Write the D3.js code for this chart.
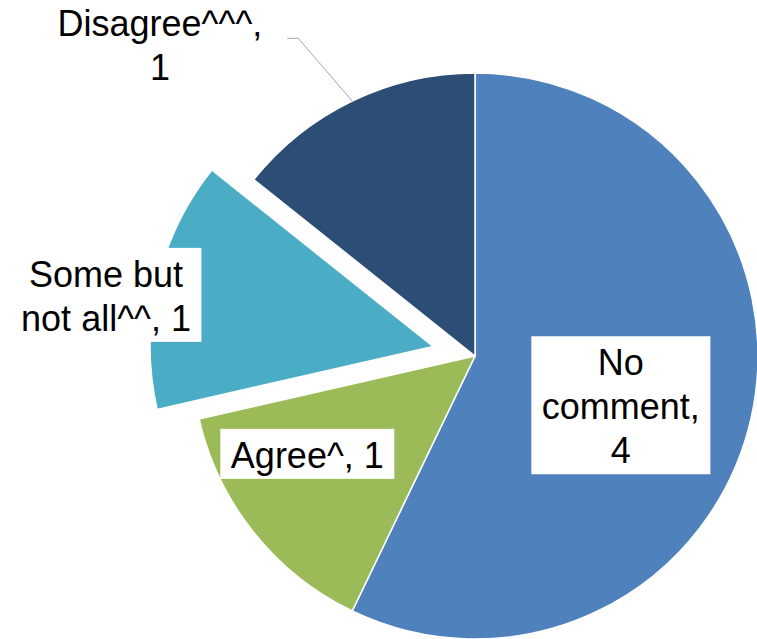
<!DOCTYPE html>
<html>
<head>
<meta charset="utf-8">
<script src="https://cdn.jsdelivr.net/npm/d3@7"></script>
<style>
  body { margin: 0; background: #fff; }
  text { font-family: "Liberation Sans", Arial, sans-serif; fill: #000; }
</style>
</head>
<body>
<script>
// Chart data
var categories = ["No comment", "Agree^", "Some but not all^^", "Disagree^^^"];
var values = [4, 1, 1, 1];
var colors = ["#4F81BD", "#9BBB59", "#4BACC6", "#2C4D75"];

// Page size
var svgWidth = 757;
var svgHeight = 639;

// Pie geometry
var cx = 475, cy = 356, radius = 283;
var explodeIndex = 2, explodeBy = 43;
var fontSize = 36, lineH = 44, wrapWidth = 180;

// Label placement: radius factor and angle nudge (deg) from slice middle
var labelLayout = [
  { k: 0.544, da: 5.8, box: true },
  { k: 0.686, da: 8.3, box: true },
  { k: 1.17, da: -3.9, box: true },
  { k: 1.566, da: -19.6, box: false, leader: true }
];

var svg = d3.select("body")
  .append("svg")
  .attr("width", svgWidth)
  .attr("height", svgHeight);

var data = categories.map((c, i) => ({ name: c, value: values[i], color: colors[i] }));

var pie = d3.pie()
  .value(d => d.value)
  .sort(null);

var arc = d3.arc()
  .innerRadius(0)
  .outerRadius(radius);

var arcs = pie(data);

function offsetOf(d, i) {
  if (i !== explodeIndex) return [0, 0];
  var m = (d.startAngle + d.endAngle) / 2;
  return [Math.sin(m) * explodeBy, -Math.cos(m) * explodeBy];
}

var pieGroup = svg.append("g")
  .attr("transform", `translate(${cx}, ${cy})`);

pieGroup.selectAll("path")
  .data(arcs)
  .enter()
  .append("path")
  .attr("d", arc)
  .attr("transform", (d, i) => `translate(${offsetOf(d, i)})`)
  .attr("fill", d => d.data.color)
  .attr("stroke", "#fff")
  .attr("stroke-width", 1.5);

// Measure text for wrapping
var measure = svg.append("text").attr("font-size", fontSize);
function textWidth(s) {
  measure.text(s);
  return measure.node().getComputedTextLength();
}
function wrap(s) {
  var words = s.split(" ");
  var lines = [words[0]];
  for (var w = 1; w < words.length; w++) {
    var trial = lines[lines.length - 1] + " " + words[w];
    if (textWidth(trial) <= wrapWidth) lines[lines.length - 1] = trial;
    else lines.push(words[w]);
  }
  return lines;
}

var labelGroup = svg.append("g")
  .attr("transform", `translate(${cx}, ${cy})`);

arcs.forEach(function(d, i) {
  var lay = labelLayout[i];
  var off = offsetOf(d, i);
  var mid = (d.startAngle + d.endAngle) / 2;
  var a = mid + lay.da * Math.PI / 180;
  var lx = off[0] + Math.sin(a) * radius * lay.k;
  var ly = off[1] - Math.cos(a) * radius * lay.k;

  var lines = wrap(d.data.name + ", " + d.data.value);
  var maxW = d3.max(lines, textWidth);
  var boxW = maxW + 21;
  var boxH = lines.length * lineH + 6;
  var top = ly - boxH / 2;

  if (lay.box) {
    labelGroup.append("rect")
      .attr("x", lx - boxW / 2)
      .attr("y", top)
      .attr("width", boxW)
      .attr("height", boxH)
      .attr("fill", "#fff");
  }

  var t = labelGroup.append("text")
    .attr("font-size", fontSize)
    .attr("text-anchor", "middle");
  lines.forEach(function(line, j) {
    t.append("tspan")
      .attr("x", lx)
      .attr("y", top + 39 + j * lineH)
      .text(line);
  });

  if (lay.leader) {
    var edge = [Math.sin(mid) * radius, -Math.cos(mid) * radius];
    var ey = ly - 6;
    var ex = lx + maxW / 2 + 25;
    labelGroup.append("polyline")
      .attr("points", [[ex, ey], [ex + 11, ey], edge].join(" "))
      .attr("fill", "none")
      .attr("stroke", "#A6A6A6")
      .attr("stroke-width", 1);
  }
});

measure.remove();
</script>
</body>
</html>
